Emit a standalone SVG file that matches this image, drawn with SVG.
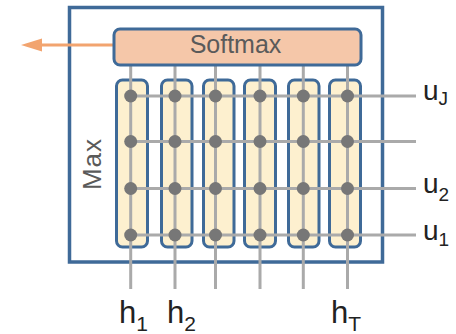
<svg xmlns="http://www.w3.org/2000/svg" width="456" height="334" viewBox="0 0 456 334">
<style>
.box{fill:none;stroke:#3f6a98;stroke-width:3.5}
.col{fill:#fdf0cf;stroke:#3f6a98;stroke-width:3}
.sm{fill:#f5c7a9;stroke:#3f6a98;stroke-width:3}
.ln{stroke:#aaaaaa;stroke-width:3;fill:none}
.dot{fill:#777777}
.t{font-family:"Liberation Sans",Arial,sans-serif;fill:#222}
.g{font-family:"Liberation Sans",Arial,sans-serif;fill:#5a5a5a}
</style>
<rect width="456" height="334" fill="#ffffff"/>
<g id="outer">
<rect class="box" x="69.5" y="7.5" width="313" height="254.5"/>
<text class="g" font-size="26" transform="translate(101,164) rotate(-90)" text-anchor="middle" letter-spacing="1">Max</text>
</g>
<g id="columns">
<rect class="col" x="116.5" y="80" width="31" height="167" rx="6"/>
<rect class="col" x="161.5" y="80" width="30.5" height="167" rx="6"/>
<rect class="col" x="203.5" y="80" width="30.5" height="167" rx="6"/>
<rect class="col" x="244.5" y="80" width="31" height="167" rx="6"/>
<rect class="col" x="288.5" y="80" width="30.5" height="167" rx="6"/>
<rect class="col" x="329.5" y="80" width="31" height="167" rx="6"/>
</g>
<g id="connectors">
<path class="ln" d="M130.7 60V289M175 60V289M215.5 60V289M260 60V289M303.3 60V289M347.5 60V289"/>
<path class="ln" d="M130.7 96H416M130.7 141.5H416M130.7 188.5H416M130.7 235H416"/>
<path d="M113 45H38" stroke="#f2a46f" stroke-width="3" fill="none"/>
<polygon points="21,45 42,38.5 42,51.5" fill="#f2a46f"/>
</g>
<g id="dots">
<g class="dot">
<circle cx="130.7" cy="96" r="6.5"/><circle cx="175" cy="96" r="6.5"/><circle cx="215.5" cy="96" r="6.5"/><circle cx="260" cy="96" r="6.5"/><circle cx="303.3" cy="96" r="6.5"/><circle cx="347.5" cy="96" r="6.5"/>
<circle cx="130.7" cy="141.5" r="6.5"/><circle cx="175" cy="141.5" r="6.5"/><circle cx="215.5" cy="141.5" r="6.5"/><circle cx="260" cy="141.5" r="6.5"/><circle cx="303.3" cy="141.5" r="6.5"/><circle cx="347.5" cy="141.5" r="6.5"/>
<circle cx="130.7" cy="188.5" r="6.5"/><circle cx="175" cy="188.5" r="6.5"/><circle cx="215.5" cy="188.5" r="6.5"/><circle cx="260" cy="188.5" r="6.5"/><circle cx="303.3" cy="188.5" r="6.5"/><circle cx="347.5" cy="188.5" r="6.5"/>
<circle cx="130.7" cy="235" r="6.5"/><circle cx="175" cy="235" r="6.5"/><circle cx="215.5" cy="235" r="6.5"/><circle cx="260" cy="235" r="6.5"/><circle cx="303.3" cy="235" r="6.5"/><circle cx="347.5" cy="235" r="6.5"/>
</g>
</g>
<g id="softmax">
<rect class="sm" x="114" y="29" width="247" height="36" rx="6"/>
<text class="g" x="235.5" y="53.3" font-size="25" text-anchor="middle">Softmax</text>
</g>
<g id="labels">
<text class="t" x="423" y="100" font-size="28">u<tspan font-size="19" dy="5">J</tspan></text>
<text class="t" x="423" y="193" font-size="28">u<tspan font-size="19" dy="8">2</tspan></text>
<text class="t" x="423" y="240" font-size="28">u<tspan font-size="19" dy="6">1</tspan></text>
<text class="t" x="119" y="323" font-size="31">h<tspan font-size="21" dy="8">1</tspan></text>
<text class="t" x="167" y="323" font-size="31">h<tspan font-size="21" dy="8">2</tspan></text>
<text class="t" x="331" y="323" font-size="31">h<tspan font-size="21" dy="8">T</tspan></text>
</g>
</svg>
